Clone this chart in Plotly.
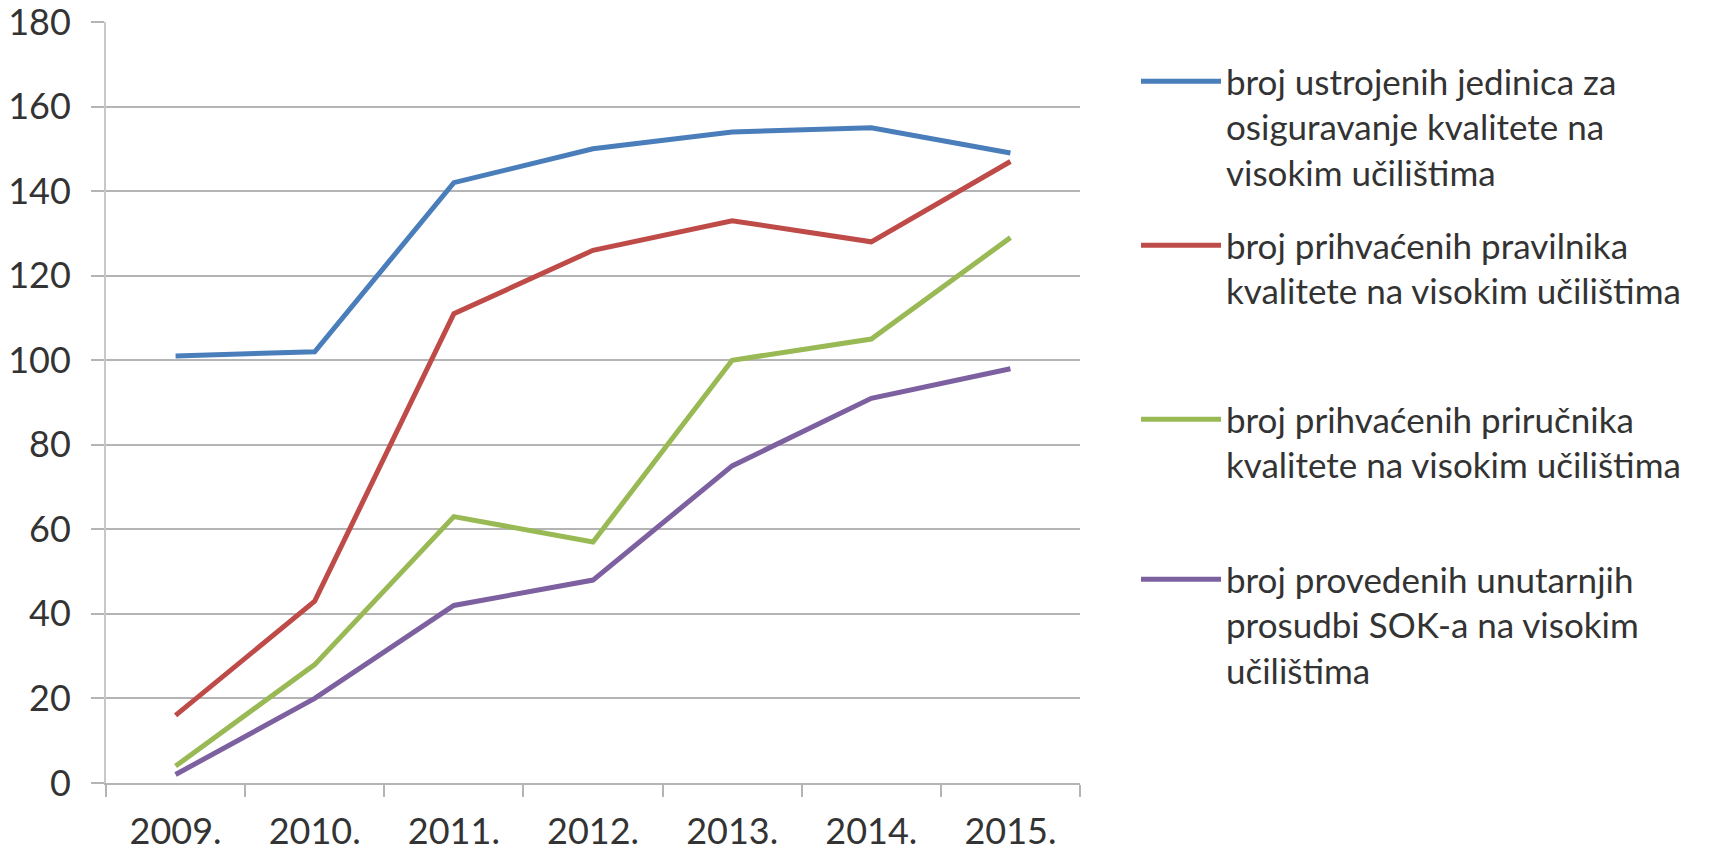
import plotly.graph_objects as go

years = ["2009.", "2010.", "2011.", "2012.", "2013.", "2014.", "2015."]

jedinice = [101, 102, 142, 150, 154, 155, 149]
pravilnici = [16, 43, 111, 126, 133, 128, 147]
prirucnici = [4, 28, 63, 57, 100, 105, 129]
prosudbe = [2, 20, 42, 48, 75, 91, 98]

names = [
    "broj ustrojenih jedinica za<br>osiguravanje kvalitete na<br>visokim učilištima",
    "broj prihvaćenih pravilnika<br>kvalitete na visokim učilištima",
    "broj prihvaćenih priručnika<br>kvalitete na visokim učilištima",
    "broj provedenih unutarnjih<br>prosudbi SOK-a na visokim<br>učilištima",
]
series = [jedinice, pravilnici, prirucnici, prosudbe]
colors = ["#4A7EBB", "#BE4B48", "#98B954", "#7D60A0"]
legend_ids = ["legend", "legend2", "legend3", "legend4"]
legend_tops = [44, 208, 382, 542]

W, H = 1702, 841
FONT = "Lato"
TXT = "#333333"
GRID = "#B4B4B4"

fig = go.Figure()
for s, n, c, lg in zip(series, names, colors, legend_ids):
    fig.add_trace(go.Scatter(x=years, y=s, name=n, mode="lines",
                             line=dict(color=c, width=5), legend=lg))

layout_legends = {}
for lg, top in zip(legend_ids, legend_tops):
    layout_legends[lg] = dict(
        x=1128 / W, xref="container", xanchor="left",
        y=1 - top / H, yref="container", yanchor="top",
        font=dict(family=FONT, size=35, color=TXT),
        itemwidth=80, valign="top", bgcolor="rgba(0,0,0,0)",
        borderwidth=0, tracegroupgap=0,
    )

fig.update_layout(
    width=W, height=H,
    margin=dict(l=98, r=630, t=14, b=66),
    paper_bgcolor="white", plot_bgcolor="white",
    showlegend=True,
    **layout_legends,
    xaxis=dict(type="category", range=[-0.5, 6.5], showgrid=False, showline=True,
               linecolor=GRID, linewidth=2, ticks="outside", tickson="boundaries",
               ticklen=12, tickcolor=GRID, tickwidth=2, ticklabelstandoff=16,
               automargin=False, ticklabeloverflow="allow",
               tickfont=dict(family=FONT, size=36, color=TXT)),
    yaxis=dict(range=[0, 180], dtick=20, showgrid=True, gridcolor=GRID, gridwidth=2,
               showline=True, linecolor="#C8C8C8", linewidth=2, zeroline=False,
               ticks="outside", ticklen=13, tickcolor=GRID, tickwidth=2,
               ticklabelstandoff=13, automargin=False, ticklabeloverflow="allow",
               tickfont=dict(family=FONT, size=36, color=TXT)),
)

fig.write_html("out.html")
